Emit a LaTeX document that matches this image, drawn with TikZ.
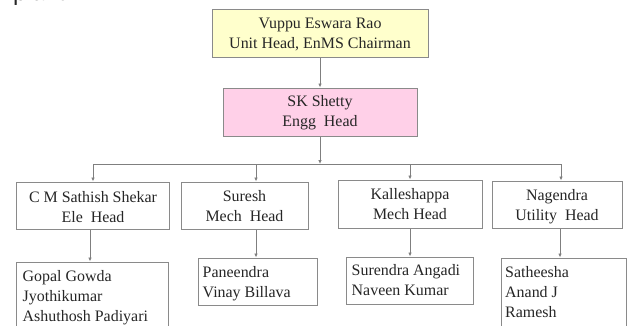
\documentclass[tikz,border=0pt]{standalone}
\usepackage{fontspec}
\setmainfont{Liberation Serif}
\newfontfamily\pagesans{Liberation Sans}
\usetikzlibrary{arrows.meta}
\definecolor{linegray}{HTML}{7F7F7F}
\definecolor{boxgray}{HTML}{8A8A8A}
\definecolor{txt}{HTML}{262626}
\definecolor{topyellow}{HTML}{FFFFCC}
\definecolor{toppink}{HTML}{FFD0E8}
\tikzset{
  orgbox/.style={draw=boxgray, line width=1bp, fill=white, inner sep=0pt},
  boxtext/.style={text=txt, inner sep=0pt, font=\fontsize{16}{20}\selectfont},
  ctext/.style={boxtext, align=center, anchor=north},
  ltext/.style={boxtext, align=left, anchor=north west},
  arr/.style={draw=linegray, line width=0.9bp, -{Latex[length=4bp,width=3.5bp]}},
  plainline/.style={draw=linegray, line width=0.9bp}
}
\begin{document}
\begin{tikzpicture}[x=1bp,y=-1bp]
\useasboundingbox (0,0) rectangle (627,325);
\clip (0,0) rectangle (627,325);
\fill[white] (0,0) rectangle (627,325);
% fragment of page text
\node[anchor=base west, inner sep=0pt, text=txt, font=\pagesans\fontsize{24}{28}\selectfont] (frag) at (13,0.5) {plant.};
% boxes
\node[orgbox, fill=topyellow, minimum width=216bp, minimum height=48bp] (top) at (320,33) {};
\node[orgbox, fill=toppink, minimum width=194bp, minimum height=48bp] (pink) at (320,112) {};
\node[orgbox, minimum width=152bp, minimum height=47bp] (b1) at (93,205.5) {};
\node[orgbox, minimum width=127bp, minimum height=47bp] (b2) at (244.5,205.5) {};
\node[orgbox, minimum width=144bp, minimum height=48bp] (b3) at (410,204) {};
\node[orgbox, minimum width=130bp, minimum height=47bp] (b4) at (557,204.5) {};
\node[orgbox, minimum width=151bp, minimum height=80bp] (gop) at (92.5,302) {};
\node[orgbox, minimum width=119bp, minimum height=47bp] (pan) at (257.5,281.5) {};
\node[orgbox, minimum width=127bp, minimum height=47bp] (sur) at (409.5,280.5) {};
\node[orgbox, minimum width=125bp, minimum height=82bp] (sat) at (563.5,299) {};
% texts
\node[ctext] (ttop) at ([yshift=-9.5bp]top.north) {Vuppu Eswara Rao\\Unit Head, EnMS Chairman};
\node[ctext] (tpink) at ([yshift=-8bp]pink.north) {SK Shetty\\Engg\ \ Head};
\node[ctext] (tb1) at ([yshift=-10bp]b1.north) {C M Sathish Shekar\\Ele\ \ Head};
\node[ctext] (tb2) at ([yshift=-9bp]b2.north) {Suresh\\Mech\ \ Head};
\node[ctext] (tb3) at ([yshift=-8.5bp]b3.north) {Kalleshappa\\Mech Head};
\node[ctext] (tb4) at ([yshift=-9bp]b4.north) {Nagendra\\Utility\ \ Head};
\node[ltext] (tgop) at ([shift={(6bp,-9bp)}]gop.north west) {Gopal Gowda\\Jyothikumar\\Ashuthosh Padiyari};
\node[ltext] (tpan) at ([shift={(5bp,-9bp)}]pan.north west) {Paneendra\\Vinay Billava};
\node[ltext] (tsur) at ([shift={(6bp,-7.5bp)}]sur.north west) {Surendra Angadi\\Naveen Kumar};
\node[ltext] (tsat) at ([shift={(4.5bp,-9bp)}]sat.north west) {Satheesha\\Anand J\\Ramesh};
% connectors
\coordinate (busc) at (320,164);
\coordinate (busL) at (93,164);
\coordinate (busR) at (561,164);
\coordinate (d2) at (256,164);
\coordinate (d3) at (410,164);
\draw[arr] (top.south) -- (pink.north);
\draw[arr] (pink.south) -- (busc);
\draw[plainline] (busL) -- (busR);
\draw[arr] (busL) -- (b1.north);
\draw[arr] (d2) -- (d2 |- b2.north);
\draw[arr] (d3) -- (b3.north);
\draw[arr] (busR) -- (busR |- b4.north);
\draw[arr] ([xshift=-3bp]b1.south) -- ([xshift=-3bp]b1.south |- gop.north);
\draw[arr] (d2 |- b2.south) -- (d2 |- pan.north);
\draw[arr] (b3.south) -- (b3.south |- sur.north);
\draw[arr] ([xshift=-1bp]busR |- b4.south) -- ([xshift=-1bp]busR |- sat.north);
\end{tikzpicture}
\end{document}
